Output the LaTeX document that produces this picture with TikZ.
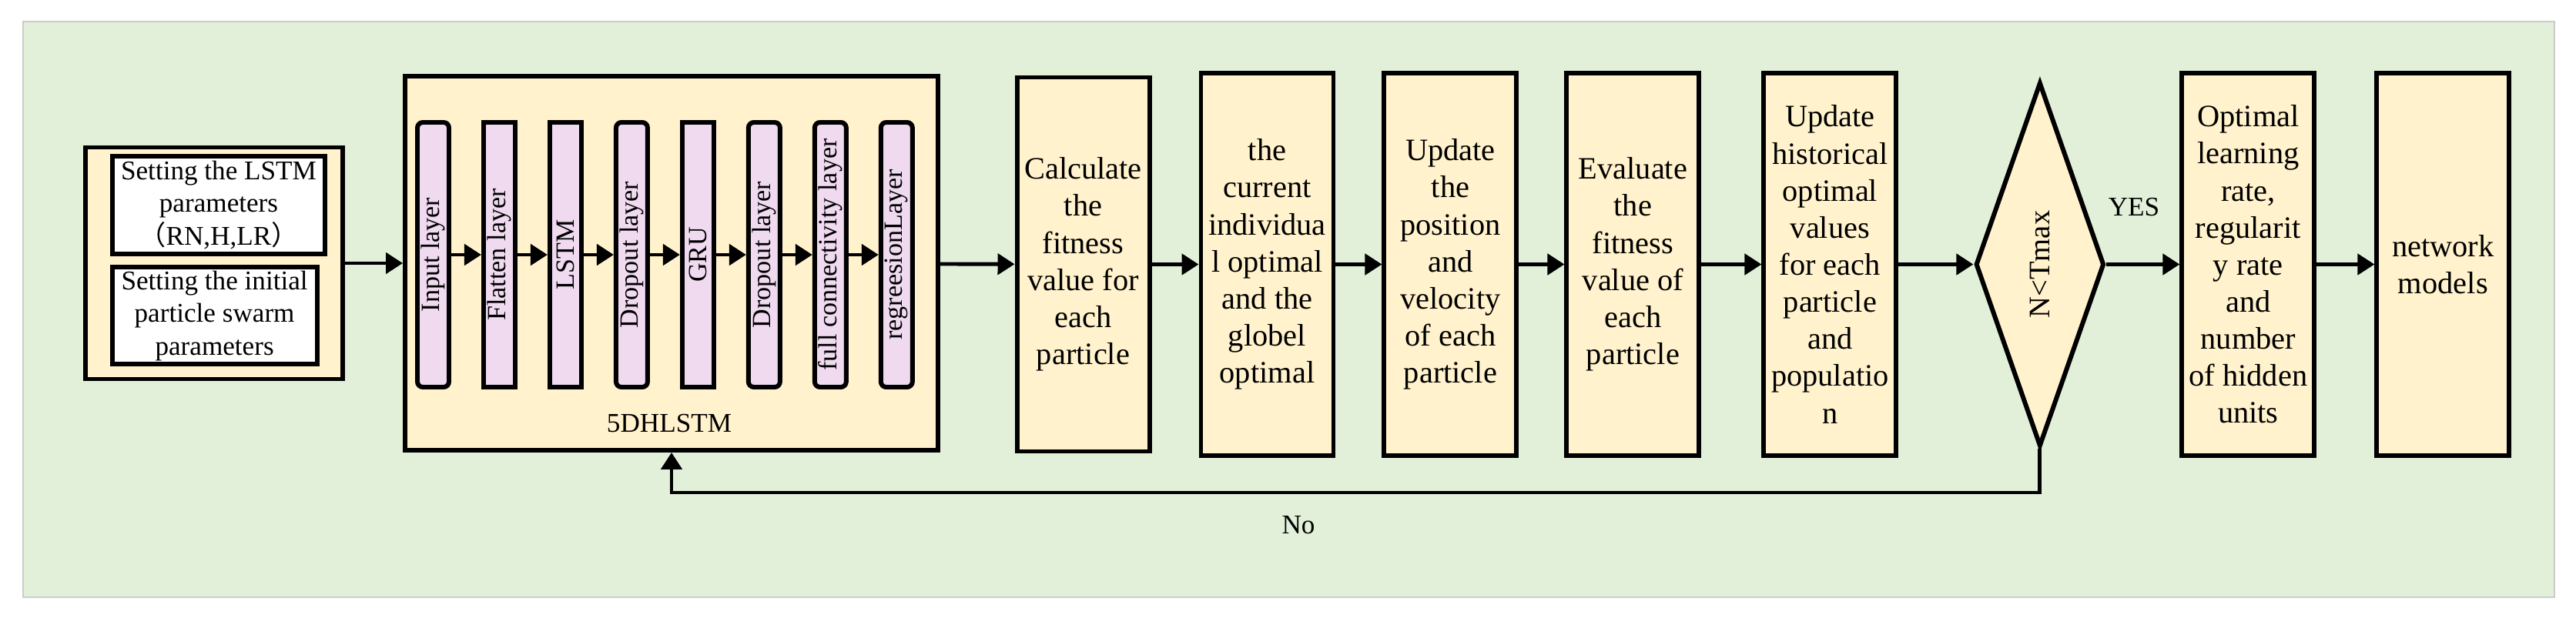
\documentclass[tikz,border=0pt]{standalone}
\usepackage{fontspec}
\setmainfont{Liberation Serif}
\newfontfamily\cjk{Noto Sans CJK SC}
\usetikzlibrary{arrows.meta, positioning, shapes.geometric}
\definecolor{bggreen}{HTML}{E2EFD9}
\definecolor{cream}{HTML}{FFF2CC}
\definecolor{lilac}{HTML}{EFDAF0}

\begin{document}
\begin{tikzpicture}[
	node distance=6mm,
	box/.style = {draw, line width=1.7pt, fill=cream, minimum width=17.2mm, minimum height=49.7mm, inner sep=0pt, align=center, font=\fontsize{11.5}{13.7}\selectfont},
	layer/.style = {draw, line width=1.7pt, fill=lilac, minimum width=4.1mm, minimum height=34.4mm, inner sep=0pt, font=\fontsize{9.7}{11}\selectfont},
	setbox/.style = {draw, line width=1.7pt, fill=white, inner sep=0pt, align=center, font=\fontsize{10}{12}\selectfont},
	frame/.style = {draw, line width=1.7pt, fill=cream, inner sep=0pt},
	arr/.style = {line width=1.4pt, -{Triangle[length=2.2mm, width=2.7mm]}},
	lbl/.style = {font=\fontsize{10}{12}\selectfont}
	]
\useasboundingbox (0,0) rectangle (33.45,-8.03);
\fill[bggreen, draw=black!20] (0.30,-0.28) rectangle (33.17,-7.76);
% setting parameters
		\node[frame, minimum width=33.4mm, minimum height=30.1mm] (setup) at (2.78,-3.42) {};
		\node[setbox, minimum width=27.6mm, minimum height=12.7mm] (lstmpar) at (2.84,-2.665) {Setting the LSTM\\parameters\\{\cjk （}RN,H,LR{\cjk ）}};
		\node[setbox, minimum width=26.6mm, minimum height=12.6mm] (psopar) at (2.786,-4.104) {Setting the initial\\particle swarm\\parameters};
% 5DHLSTM network
		\node[frame, minimum width=69.2mm, minimum height=48.6mm] (net5) at (8.72,-3.42) {};
		\node[lbl] (name5) at (8.69,-5.50) {5DHLSTM};
		\node[layer, rounded corners=2pt] (b1) at (5.625,-3.31) {\rotatebox{90}{Input layer}};
		\node[layer, right=3.9mm of b1] (b2) {\rotatebox{90}{Flatten layer}};
		\node[layer, right=3.9mm of b2] (b3) {\rotatebox{90}{LSTM}};
		\node[layer, rounded corners=2pt, right=3.9mm of b3] (b4) {\rotatebox{90}{Dropout layer}};
		\node[layer, right=3.9mm of b4] (b5) {\rotatebox{90}{GRU}};
		\node[layer, rounded corners=2pt, right=3.9mm of b5] (b6) {\rotatebox{90}{Dropout layer}};
		\node[layer, rounded corners=2pt, right=3.9mm of b6] (b7) {\rotatebox{90}{full connectivity layer}};
		\node[layer, rounded corners=2pt, right=3.9mm of b7] (b8) {\rotatebox{90}{regreesionLayer}};
		\foreach \i [count=\j from 2] in {1,...,7}
			\draw[arr] (b\i) -- (b\j);
% particle swarm steps
		\node[box, minimum height=48.6mm] (calc) at (14.065,-3.435) {Calculate\\the\\fitness\\value for\\each\\particle};
		\node[box, right=6.1mm of calc] (cur) {the\\current\\individua\\l optimal\\and the\\globel\\optimal};
		\node[box, right=6mm of cur] (upd) {Update\\the\\position\\and\\velocity\\of each\\particle};
		\node[box, right=5.9mm of upd] (eva) {Evaluate\\the\\fitness\\value of\\each\\particle};
		\node[box, right=7.8mm of eva] (his) {Update\\historical\\optimal\\values\\for each\\particle\\and\\populatio\\n};
		\node[frame, diamond, aspect=0.35, minimum width=16.7mm, minimum height=47.3mm, font=\fontsize{11}{13}\selectfont, right=9.7mm of his] (dia) {\rotatebox{90}{N<Tmax}};
		\node[box, right=9.5mm of dia] (opt) {Optimal\\learning\\rate,\\regularit\\y rate\\and\\number\\of hidden\\units};
		\node[box, right=7.5mm of opt] (net) {network\\models};
%
		\foreach \a/\b in {setup/net5, net5/calc, calc/cur, cur/upd, upd/eva, eva/his, his/dia, dia/opt, opt/net}
			\draw[arr] (\a) -- (\b);
		\draw[arr] (dia.south) -- ++(0,-0.57) -| (net5.south);
		\node[lbl] (yes) at (27.71,-2.69) {YES};
		\node[lbl] (no) at (16.86,-6.82) {No};
\end{tikzpicture}
\end{document}
